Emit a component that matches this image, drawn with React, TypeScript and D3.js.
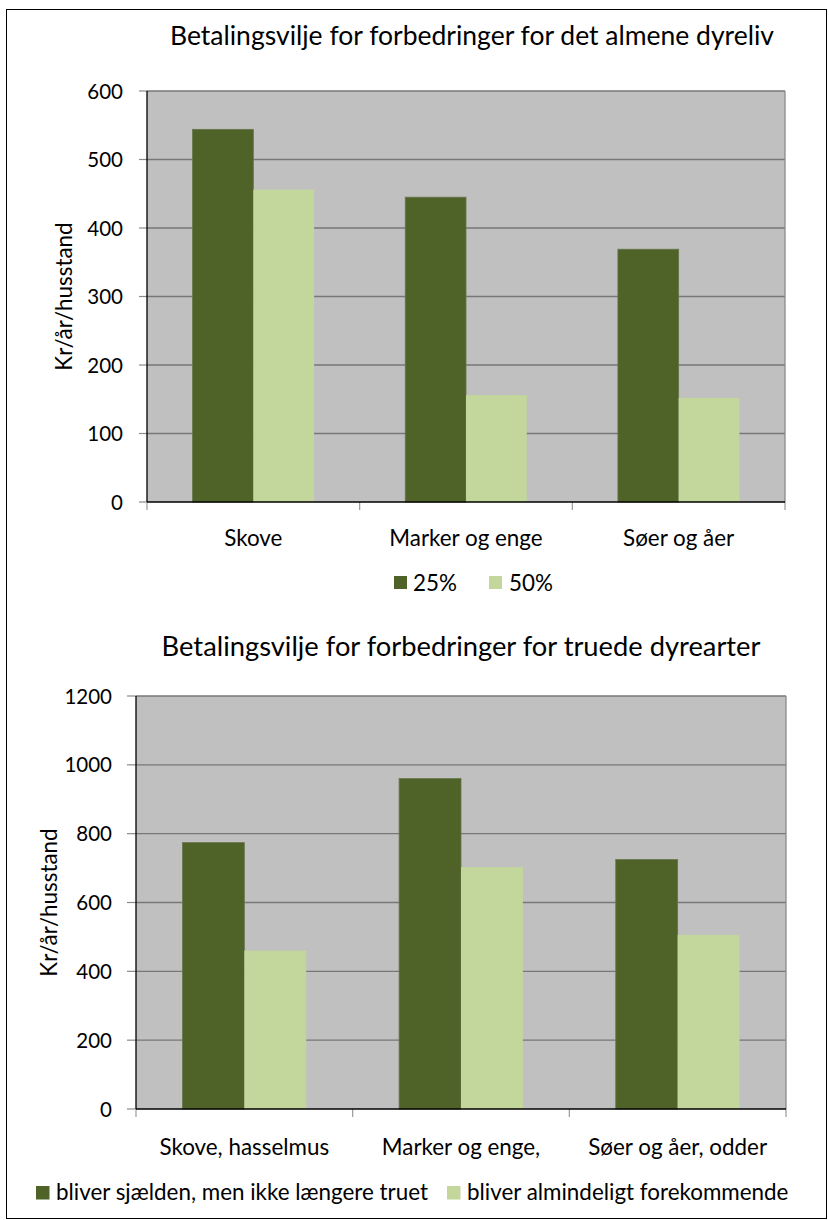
import React from "react";
import * as d3 from "d3";

const W = 829;
const H = 1220;
const FONT = "Lato, Carlito, Calibri, 'Noto Sans', sans-serif";

// Chart 1 data
const title1 = "Betalingsvilje for forbedringer for det almene dyreliv";
const categories1 = ["Skove", "Marker og enge", "Søer og åer"];
const seriesNames1 = ["25%", "50%"];
const values1_25 = [544, 445, 369];
const values1_50 = [456, 156, 152];
const yTicks1 = [0, 100, 200, 300, 400, 500, 600];

// Chart 2 data
const title2 = "Betalingsvilje for forbedringer for truede dyrearter";
const categories2 = ["Skove, hasselmus", "Marker og enge,", "Søer og åer, odder"];
const seriesNames2 = ["bliver sjælden, men ikke længere truet", "bliver almindeligt forekommende"];
const values2_rare = [774, 960, 725];
const values2_common = [460, 703, 506];
const yTicks2 = [0, 200, 400, 600, 800, 1000, 1200];

const yTitle = "Kr/år/husstand";
const COLORS = ["#4F6228", "#C3D69B"];

type ChartProps = {
  title: string;
  titleX: number;
  titleY: number;
  titleSize: number;
  categories: string[];
  seriesNames: string[];
  series: number[][];
  yTicks: number[];
  left: number;
  right: number;
  top: number;
  bottom: number;
  labelRight: number;
  tickLen: number;
  catBaseline: number;
  yTitleX: number;
  legend: { sqX: number[]; textX: number[]; sqY: number; sq: number; baseline: number };
  fs: number;
  tickFs: number;
};

function BarChart(p: ChartProps) {
  const y = d3
    .scaleLinear()
    .domain([0, p.yTicks[p.yTicks.length - 1]])
    .range([p.bottom, p.top]);
  const x0 = d3.scaleBand<string>().domain(p.categories).range([p.left, p.right]).padding(0);
  const x1 = d3
    .scaleBand<string>()
    .domain(p.seriesNames)
    .range([0, x0.bandwidth()])
    .paddingInner(0)
    .paddingOuter(0.75);
  const boundaries = [...p.categories.map((c) => x0(c) as number), p.right];
  const yMid = (p.top + p.bottom) / 2;
  return (
    <g>
      <text x={p.titleX} y={p.titleY} textAnchor="middle" fontSize={p.titleSize} fill="#000">
        {p.title}
      </text>
      <rect x={p.left} y={p.top} width={p.right - p.left} height={p.bottom - p.top} fill="#C0C0C0" />
      {p.yTicks.map((t) => (
        <g key={t}>
          {t > 0 && (
            <line x1={p.left} x2={p.right} y1={y(t)} y2={y(t)} stroke="#777" strokeWidth={1.3} />
          )}
          <line x1={p.left - p.tickLen} x2={p.left} y1={y(t)} y2={y(t)} stroke="#8a8a8a" strokeWidth={1.2} />
          <text x={p.labelRight} y={y(t) + 7.5} textAnchor="end" fontSize={p.tickFs} fill="#000">
            {t}
          </text>
        </g>
      ))}
      <line x1={p.right} x2={p.right} y1={p.top} y2={p.bottom} stroke="#8a8a8a" strokeWidth={1.3} />
      {p.categories.map((c, i) =>
        p.series.map((s, j) => (
          <rect
            key={c + j}
            x={(x0(c) as number) + (x1(p.seriesNames[j]) as number)}
            y={y(s[i])}
            width={x1.bandwidth()}
            height={p.bottom - y(s[i])}
            fill={COLORS[j]}
            stroke={j === 0 ? "#66774a" : "none"}
            strokeWidth={0.8}
          />
        ))
      )}
      {boundaries.map((b, i) => (
        <line key={i} x1={b} x2={b} y1={p.bottom} y2={p.bottom + 8} stroke="#9a9a9a" strokeWidth={1.2} />
      ))}
      <line x1={p.left} x2={p.left} y1={p.top} y2={p.bottom} stroke="#000" strokeWidth={1.3} />
      <line x1={p.left} x2={p.right} y1={p.bottom} y2={p.bottom} stroke="#000" strokeWidth={1.3} />
      {p.categories.map((c) => (
        <text
          key={c}
          x={(x0(c) as number) + x0.bandwidth() / 2}
          y={p.catBaseline}
          textAnchor="middle"
          fontSize={p.fs}
          fill="#000"
        >
          {c}
        </text>
      ))}
      <text
        transform={`translate(${p.yTitleX},${yMid}) rotate(-90)`}
        textAnchor="middle"
        dominantBaseline="central"
        fontSize={p.fs}
        fill="#000"
      >
        {yTitle}
      </text>
      {p.seriesNames.map((n, j) => (
        <g key={n}>
          <rect x={p.legend.sqX[j]} y={p.legend.sqY} width={p.legend.sq} height={p.legend.sq} fill={COLORS[j]} />
          <text x={p.legend.textX[j]} y={p.legend.baseline} fontSize={p.fs} fill="#000">
            {n}
          </text>
        </g>
      ))}
    </g>
  );
}

export default function App() {
  return (
    <svg
      width={W}
      height={H}
      style={{ position: "absolute", left: 0, top: 0, background: "#fff" }}
      fontFamily={FONT}
    >
      <rect x={6.5} y={9.5} width={820} height={1209} fill="#fff" stroke="#000" strokeWidth={1} />
      <BarChart
        title={title1}
        titleX={472}
        titleY={45}
        titleSize={26.5}
        categories={categories1}
        seriesNames={seriesNames1}
        series={[values1_25, values1_50]}
        yTicks={yTicks1}
        left={147}
        right={785}
        top={91}
        bottom={502}
        labelRight={123}
        tickLen={8}
        catBaseline={546}
        yTitleX={63}
        legend={{ sqX: [394, 489], textX: [413, 509], sqY: 576, sq: 13, baseline: 591 }}
        fs={22.4}
        tickFs={20.5}
      />
      <BarChart
        title={title2}
        titleX={461}
        titleY={656}
        titleSize={27.3}
        categories={categories2}
        seriesNames={seriesNames2}
        series={[values2_rare, values2_common]}
        yTicks={yTicks2}
        left={136}
        right={786}
        top={696}
        bottom={1109}
        labelRight={112}
        tickLen={9}
        catBaseline={1155}
        yTitleX={48}
        legend={{ sqX: [36, 447], textX: [56, 467], sqY: 1186, sq: 13.5, baseline: 1200 }}
        fs={22.4}
        tickFs={20.5}
      />
    </svg>
  );
}
